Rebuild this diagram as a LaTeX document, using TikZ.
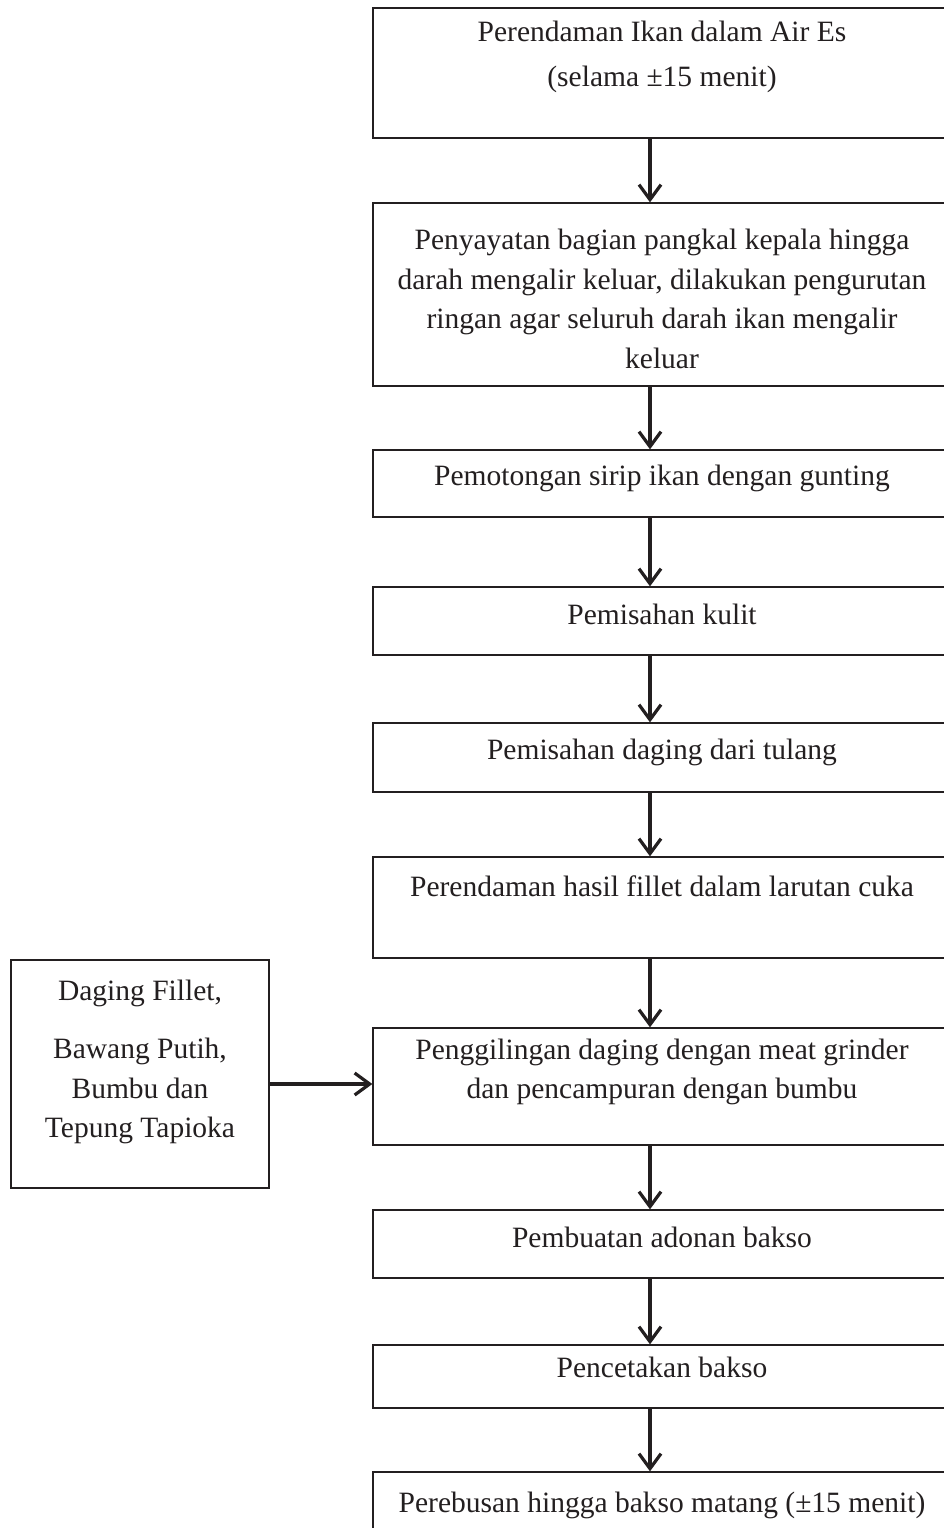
\documentclass[tikz,border=0pt]{standalone}
\usepackage{fontspec}
\setmainfont{Liberation Serif}
\usetikzlibrary{arrows.meta}
\definecolor{ink}{HTML}{231F20}
\tikzset{
  x=1pt, y=-1pt,
  box/.style={draw=ink, line width=1.3pt, minimum width=578pt, inner sep=0pt, rectangle},
  txt/.style={text=ink, align=center, font=\fontsize{29.5}{39.5}\selectfont, inner sep=0pt},
  flow/.style={draw=ink, line width=3.2pt, -{Straight Barb[length=15pt,width=22pt]}}
}
\begin{document}
\begin{tikzpicture}
\clip (0,0) rectangle (944,1528);
\fill[white] (0,0) rectangle (944,1528);
% boxes
\node[box, minimum height=130pt] (b1) at (662,73) {};
\node[box, minimum height=183pt] (b2) at (662,294.5) {};
\node[box, minimum height=67pt] (b3) at (662,483.5) {};
\node[box, minimum height=68pt] (b4) at (662,621) {};
\node[box, minimum height=69pt] (b5) at (662,757.5) {};
\node[box, minimum height=101pt] (b6) at (662,907.5) {};
\node[box, minimum height=117pt] (b7) at (662,1086.5) {};
\node[box, minimum height=68pt] (b8) at (662,1244) {};
\node[box, minimum height=63pt] (b9) at (662,1376.5) {};
\node[box, minimum height=88pt] (b10) at (662,1516) {};
\node[box, minimum width=258pt, minimum height=228pt] (src) at (140,1074) {};
% texts
\node[txt] (t1) at (662,57) {Perendaman Ikan dalam Air Es\\[5pt](selama ±15 menit)};
\node[txt] (t2) at (662,299) {Penyayatan bagian pangkal kepala hingga\\darah mengalir keluar, dilakukan pengurutan\\ringan agar seluruh darah ikan mengalir\\keluar};
\node[txt] (t3) at (662,478) {Pemotongan sirip ikan dengan gunting};
\node[txt] (t4) at (662,614) {Pemisahan kulit};
\node[txt] (t5) at (662,752) {Pemisahan daging dari tulang};
\node[txt] (t6) at (662,886) {Perendaman hasil fillet dalam larutan cuka};
\node[txt] (t7) at (662,1072) {Penggilingan daging dengan meat grinder\\dan pencampuran dengan bumbu};
\node[txt] (t8) at (662,1237) {Pembuatan adonan bakso};
\node[txt] (t9) at (662,1367) {Pencetakan bakso};
\node[txt] (t10) at (662,1505) {Perebusan hingga bakso matang (±15 menit)};
\node[txt] (ts) at (140,1062) {Daging Fillet,\\[19pt]Bawang Putih,\\Bumbu dan\\Tepung Tapioka};
% connectors
\foreach \a/\b in {b1/b2,b2/b3,b3/b4,b4/b5,b5/b6,b6/b7,b7/b8,b8/b9,b9/b10}
  \draw[flow] ([xshift=-12pt]\a.south) -- ([xshift=-12pt]\b.north);
\draw[flow] (src.east |- 0,1084) -- (b7.west |- 0,1084);
\end{tikzpicture}
\end{document}
